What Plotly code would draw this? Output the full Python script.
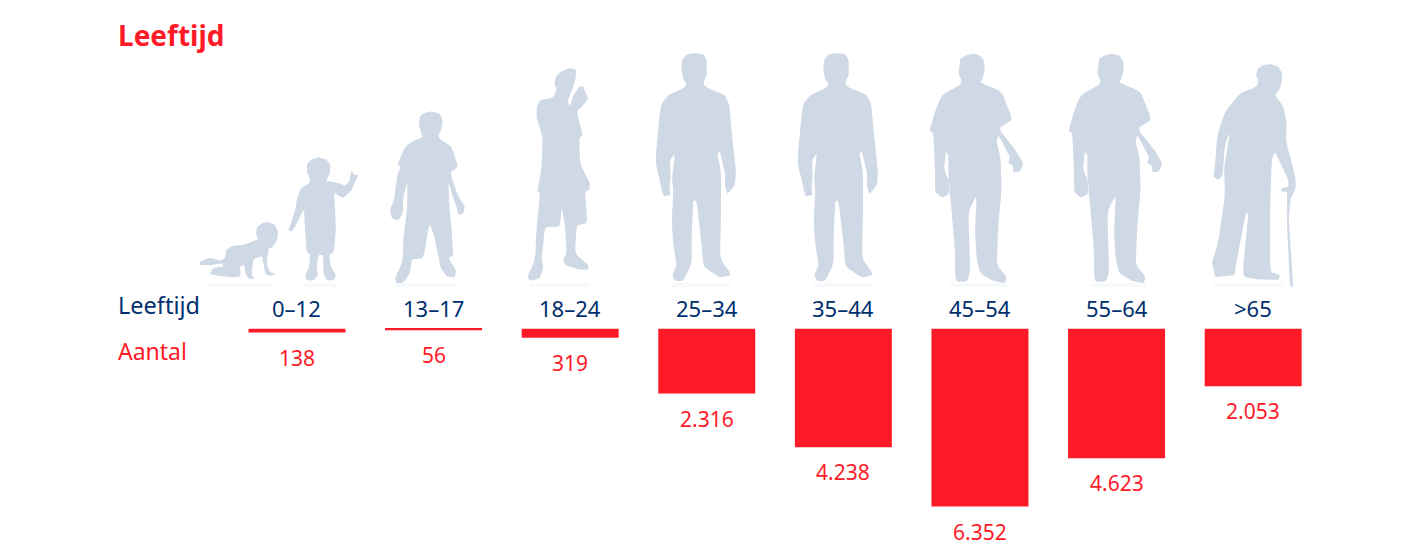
import plotly.graph_objects as go

age_groups = ["0–12", "13–17", "18–24", "25–34", "35–44", "45–54", "55–64", ">65"]
counts = [138, 56, 319, 2316, 4238, 6352, 4623, 2053]

RED = "#FF1A27"
NAVY = "#00306F"
GREY = "#CFD9E6"
FONT = "Noto Sans"
W, H = 1419, 554

# outlines, in 3x zoom pixels
baby = [(215,520),(235,516),(255,525),(264,545),(262,568),(250,590),(236,596),(231,625),(232,650),(240,666),(258,672),(240,678),(226,672),(220,640),(216,618),(190,628),(186,660),(186,678),(196,686),(175,686),(166,670),(163,645),(150,650),(152,680),(130,682),(90,678),(58,672),(70,655),(85,650),(100,650),(98,640),(60,645),(28,645),(30,635),(60,623),(90,632),(105,625),(108,600),(125,588),(160,585),(185,575),(205,568),(198,552),(200,532)]
kid = [(365,328),(385,322),(408,327),(421,345),(420,368),(412,385),(410,393),(440,398),(465,407),(478,395),(484,362),(492,375),(506,375),(495,395),(485,420),(460,445),(442,435),(432,425),(438,530),(432,605),(418,615),(422,650),(438,675),(430,692),(410,690),(400,670),(400,615),(385,615),(380,650),(384,675),(370,692),(350,690),(345,675),(358,650),(360,612),(350,605),(345,540),(342,475),(318,525),(305,545),(295,540),(305,515),(318,470),(320,450),(332,415),(358,400),(360,385),(351,368),(351,342)]
boy = [(700,190),(722,184),(748,190),(758,210),(755,235),(745,258),(750,268),(785,290),(804,350),(780,368),(805,440),(825,470),(820,490),(805,495),(798,465),(790,445),(775,395),(778,470),(785,540),(790,615),(775,625),(798,660),(795,682),(770,680),(750,650),(748,630),(730,550),(718,520),(700,625),(665,628),(660,670),(640,698),(620,702),(615,685),(635,640),(638,625),(640,565),(652,470),(652,395),(640,440),(638,490),(625,512),(605,505),(600,480),(612,450),(622,375),(632,350),(622,345),(645,290),(675,270),(698,262),(692,245),(687,222),(689,200)]
teen = [(1112,65),(1140,54),(1158,58),(1157,85),(1150,110),(1140,135),(1133,155),(1140,170),(1150,135),(1168,110),(1180,108),(1185,125),(1195,145),(1180,165),(1160,185),(1170,225),(1178,255),(1168,265),(1170,340),(1200,400),(1198,420),(1185,425),(1192,520),(1160,525),(1155,610),(1195,645),(1195,660),(1165,658),(1125,645),(1120,625),(1130,610),(1125,530),(1115,470),(1110,530),(1065,530),(1055,625),(1060,650),(1050,685),(1020,692),(1012,680),(1035,630),(1040,530),(1050,430),(1042,425),(1055,350),(1058,260),(1040,205),(1040,170),(1050,150),(1090,142),(1100,120),(1093,100),(1098,80)]
man_a = [(140,28),(165,24),(190,28),(200,45),(200,70),(200,90),(193,105),(190,118),(205,130),(255,150),(268,180),(275,260),(288,380),(285,420),(262,448),(254,420),(256,390),(240,320),(232,325),(243,380),(243,500),(240,640),(275,690),(240,698),(190,665),(185,600),(170,470),(160,465),(155,570),(155,655),(130,708),(105,708),(97,690),(110,660),(100,600),(95,530),(100,440),(96,400),(105,325),(90,345),(92,400),(88,430),(92,450),(70,455),(60,410),(48,360),(48,320),(62,180),(85,150),(130,130),(140,118),(128,98),(124,70),(126,45)]
man_b = [(975,32),(1000,26),(1022,32),(1033,50),(1034,75),(1028,100),(1020,112),(1085,140),(1118,225),(1075,250),(1130,320),(1150,355),(1140,380),(1120,382),(1118,360),(1105,355),(1110,335),(1075,270),(1070,290),(1082,340),(1085,430),(1075,540),(1070,660),(1100,695),(1095,715),(1060,708),(1020,685),(1010,640),(1005,560),(1010,450),(985,500),(990,660),(988,690),(980,710),(950,710),(945,690),(945,620),(935,500),(925,400),(925,330),(918,320),(912,370),(930,420),(925,450),(905,458),(885,440),(885,380),(880,265),(868,258),(885,200),(905,150),(960,120),(965,108),(955,85),(958,65),(960,42)]
old_man = [(665,62),(690,57),(715,65),(726,85),(726,110),(718,135),(705,150),(730,185),(740,230),(738,290),(765,390),(768,425),(760,445),(752,460),(746,520),(760,725),(750,725),(740,520),(742,440),(725,440),(722,430),(745,425),(745,405),(705,320),(695,345),(690,500),(690,680),(720,690),(715,705),(650,703),(610,695),(610,660),(625,510),(618,500),(585,675),(585,690),(525,697),(520,665),(515,655),(535,590),(555,450),(552,370),(570,260),(555,300),(548,390),(535,405),(520,395),(525,360),(532,270),(555,200),(600,145),(650,125),(655,105),(648,90),(653,72)]

# faint floor reflections under the feet: x0, x1 in screen pixels
reflections = [(208, 272), (304, 336), (396, 456), (530, 590), (672, 730), (814, 872), (950, 1006), (1090, 1146), (1214, 1284)]


def outline(points, ox, oy, r=0.22):
    # zoom pixels to paper coords, with the corners rounded off a little
    pts = [((ox + x / 3) / W, 1 - (oy + y / 3) / H) for x, y in points]
    path = ""
    for i, p in enumerate(pts):
        a, b = pts[i - 1], pts[(i + 1) % len(pts)]
        start = (p[0] + (a[0] - p[0]) * r, p[1] + (a[1] - p[1]) * r)
        end = (p[0] + (b[0] - p[0]) * r, p[1] + (b[1] - p[1]) * r)
        path += f"{'L' if path else 'M'}{start[0]:.5f},{start[1]:.5f} Q{p[0]:.5f},{p[1]:.5f} {end[0]:.5f},{end[1]:.5f} "
    return dict(type="path", path=path + "Z", xref="paper", yref="paper",
                fillcolor=GREY, line_width=0, layer="below")


figures = [
    outline(baby, 190, 50), outline(kid, 190, 50), outline(boy, 190, 50), outline(teen, 190, 50),
    outline(man_a, 640, 45), outline(man_a, 782, 45), outline(man_b, 640, 45), outline(man_b, 779, 45),
    outline(old_man, 1040, 45),
]
for x0, x1 in reflections:
    figures.append(dict(type="rect", xref="paper", yref="paper", x0=x0 / W, x1=x1 / W, y0=1 - 287 / H, y1=1 - 283 / H,
                        fillcolor="#F8F9FB", line_width=0, layer="below"))

fig = go.Figure()
fig.add_bar(x=age_groups, y=counts, width=0.71, marker_color=RED, marker_line_width=0, hoverinfo="skip")

for name, value in zip(age_groups, counts):
    fig.add_annotation(x=name, y=0, text=name, showarrow=False, yshift=21,
                       font=dict(family=FONT, size=22, color=NAVY))
    fig.add_annotation(x=name, y=value, text=f"{value:,}".replace(",", "."), showarrow=False, yshift=-25,
                       font=dict(family=FONT, size=21, color=RED))

fig.add_annotation(text="<b>Leeftijd</b>", x=116 / W, y=1 - 35 / H, xref="paper", yref="paper", xanchor="left", yanchor="middle",
                   showarrow=False, font=dict(family=FONT, size=28, color=RED))
fig.add_annotation(text="Leeftijd", x=116 / W, y=1 - 305 / H, xref="paper", yref="paper", xanchor="left", yanchor="middle",
                   showarrow=False, font=dict(family=FONT, size=23.5, color=NAVY))
fig.add_annotation(text="Aantal", x=116 / W, y=1 - 351 / H, xref="paper", yref="paper", xanchor="left", yanchor="middle",
                   showarrow=False, font=dict(family=FONT, size=23, color=RED))

fig.update_layout(width=W, height=H, margin=dict(l=0, r=0, t=0, b=0), showlegend=False,
                  plot_bgcolor="white", paper_bgcolor="white", shapes=figures)
fig.update_xaxes(visible=False, range=[-2.174, 8.214])
fig.update_yaxes(visible=False, range=[8046, -11739])

fig.write_html("out.html", config=dict(displayModeBar=False),
               post_script="document.body.style.margin='0';document.body.style.overflow='hidden';")
